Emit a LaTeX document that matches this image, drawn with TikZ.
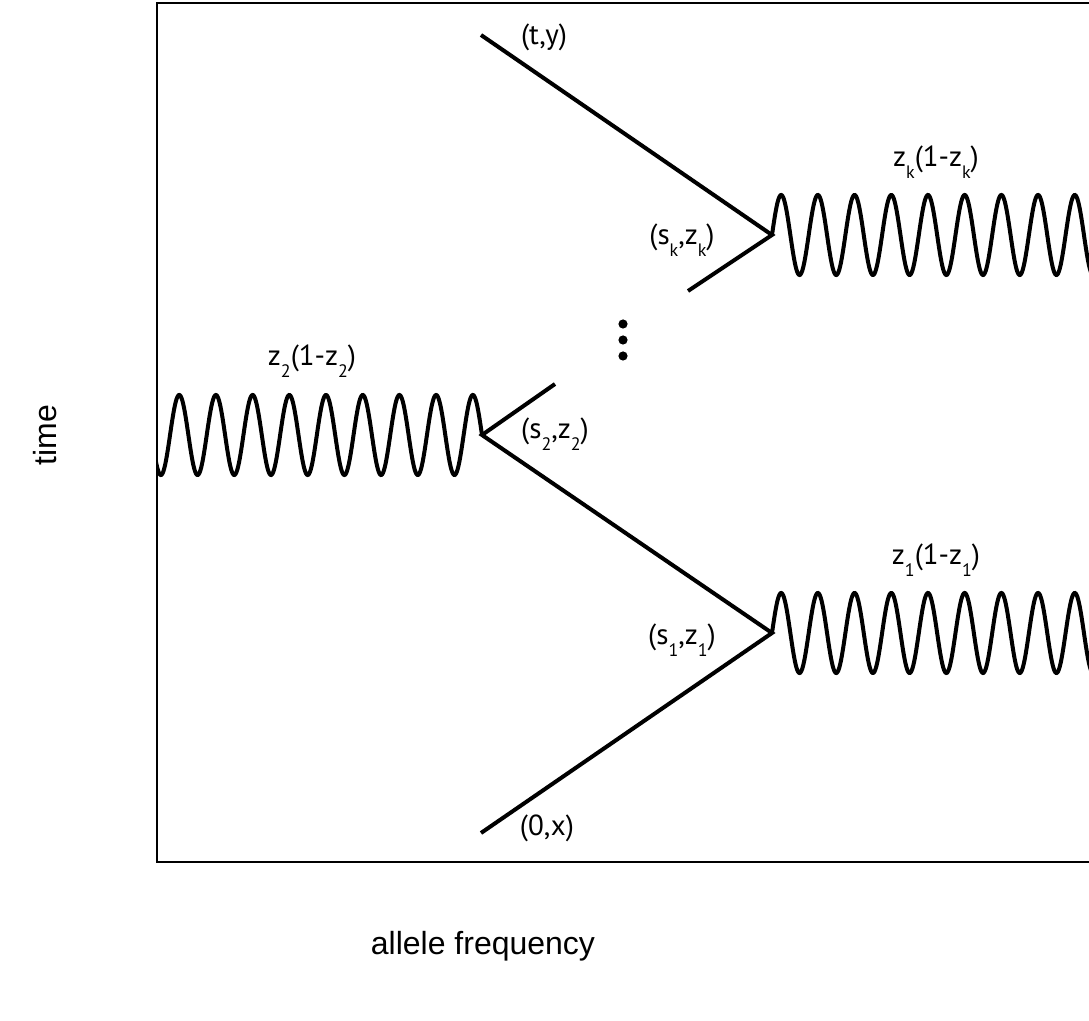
\documentclass[tikz,border=0pt]{standalone}
\usepackage{fontspec}
\setmainfont{PT Sans}
\newfontfamily\axisfont{Liberation Sans}
\newcommand\lowsub[1]{\raisebox{-0.85ex}{\fontsize{9}{9}\selectfont #1}}
\tikzset{
  branch/.style={line width=2pt},
  wave/.style={line width=2pt, smooth, samples=500},
  pointlabel/.style={font=\fontsize{14.5}{16}\selectfont, inner sep=0pt},
  axislabel/.style={font=\axisfont\fontsize{16}{18}\selectfont, inner sep=0pt},
}
\begin{document}
\begin{tikzpicture}[x=0.5pt, y=-0.5pt]
  \clip (0,0) rectangle (1089,1021);
  % Frame
  \draw[line width=1pt] (157,3) rectangle (1110,862);

  % Branch points
  \coordinate (start) at (481,833);
  \coordinate (finish) at (481,35);
  \coordinate (branch1) at (772,633);
  \coordinate (branch2) at (482,435);
  \coordinate (branchk) at (772,235);
  \coordinate (cut2) at (555,384);
  \coordinate (cutk) at (688,291);

  % Path of the allele
  \draw[branch] (start) -- (branch1) -- (branch2) -- (cut2);
  \draw[branch] (finish) -- (branchk) -- (cutk);

  % Excursions (period 36.7, 360/36.7 = 9.809)
  \begin{scope}
    \clip (157,3) rectangle (1089,862);
    \draw[wave] plot[domain=772:1100] (\x, {633-40*sin(9.809*(\x-772))});
    \draw[wave] plot[domain=772:1100] (\x, {235-40*sin(9.809*(\x-772))});
    \draw[wave] plot[domain=150:482] (\x, {435-40*sin(9.809*(482-\x))});
  \end{scope}

  % Dots
  \foreach \dy in {324,340,356}
    \fill (623,\dy) circle[radius=2.3pt];

  % Labels
  \node[pointlabel] (lab-finish) at (544,37) {(t,y)};
  \node[pointlabel] (lab-start) at (547,828) {(0,x)};
  \node[pointlabel] (lab-branchk) at (682,240) {(s\lowsub{k},z\lowsub{k})};
  \node[pointlabel] (lab-branch2) at (555,434) {(s\lowsub{2},z\lowsub{2})};
  \node[pointlabel] (lab-branch1) at (682,640) {(s\lowsub{1},z\lowsub{1})};
  \node[pointlabel] (lab-wavek) at (936,162) {z\lowsub{k}(1-z\lowsub{k})};
  \node[pointlabel] (lab-wave2) at (312,361) {z\lowsub{2}(1-z\lowsub{2})};
  \node[pointlabel] (lab-wave1) at (936,560) {z\lowsub{1}(1-z\lowsub{1})};

  % Axis titles
  \node[axislabel, rotate=90] (lab-time) at (45,435) {time};
  \node[axislabel] (lab-freq) at (483,946) {allele frequency};
\end{tikzpicture}
\end{document}
